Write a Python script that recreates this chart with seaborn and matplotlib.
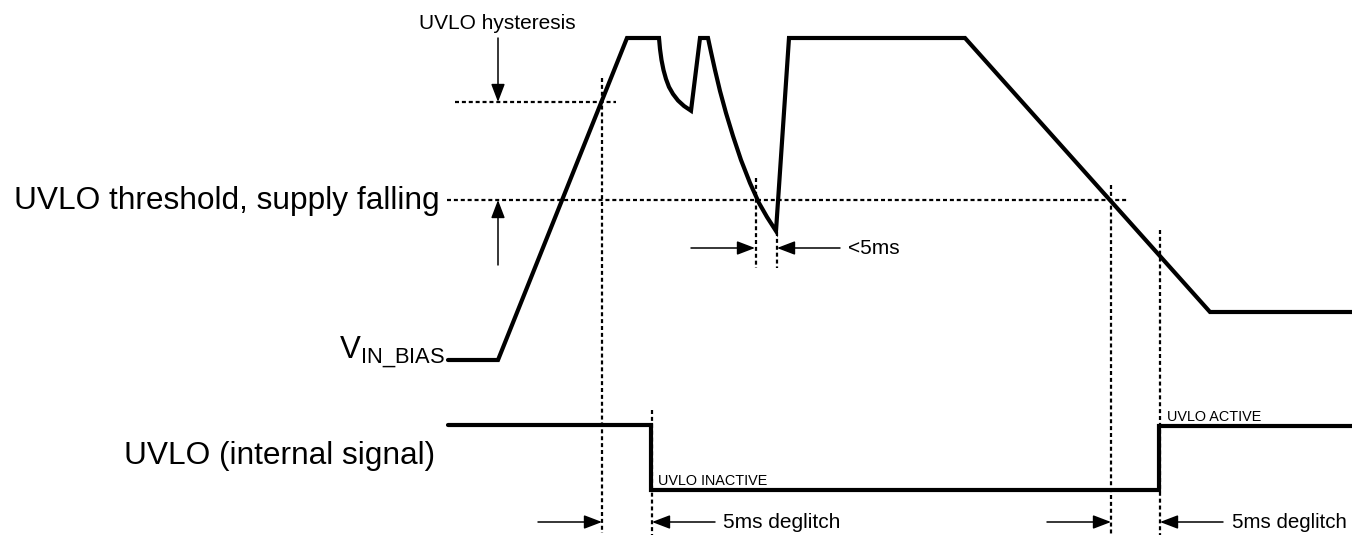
import matplotlib
matplotlib.use('Agg')
import matplotlib.pyplot as plt
import seaborn as sns

sns.set_style('white')
plt.rcParams['font.family'] = ['Liberation Sans', 'DejaVu Sans']
plt.rcParams['text.color'] = 'black'

# V_IN_BIAS waveform (time, level), pixel units
vin_t = [448, 498, 627, 659,
         660, 661.5, 663.5, 666, 669, 673, 678, 684, 691,
         700, 708,
         711, 715, 720, 726, 733, 741, 750, 759, 767, 776,
         789, 965, 1210, 1352]
vin_v = [360, 360, 38, 38,
         49, 60, 70, 79, 87, 94, 100.5, 106, 110.7,
         38, 38,
         52, 70, 91, 113, 136, 160, 183, 203, 217, 231,
         38, 38, 312, 312]

# UVLO internal signal
uvlo_t = [448, 651, 651, 1159, 1159, 1352]
uvlo_v = [425, 425, 490, 490, 426, 426]

# threshold levels (y, x_start, x_end)
thresholds = [(102, 455, 616), (200, 447, 1128)]
# vertical markers (x, y_top, y_bottom)
markers = [(602, 78, 533), (652, 410, 535), (756, 178, 268), (777, 232, 268),
           (1111, 185, 535), (1160, 230, 535)]
# dimension arrows (x_tail, y_tail, x_tip, y_tip)
arrows = [(498, 38, 498, 102), (498, 265, 498, 200),
          (691, 248, 755, 248), (840, 248, 777, 248),
          (538, 522, 602, 522), (715, 522, 652, 522),
          (1047, 522, 1111, 522), (1223, 522, 1160, 522)]

fig = plt.figure(figsize=(13.52, 5.35), dpi=100)
ax = fig.add_axes([0, 0, 1, 1])
ax.set_xlim(0, 1352)
ax.set_ylim(535, 0)
ax.axis('off')

dot = (0, (1.8, 1.3))
for y, x0, x1 in thresholds:
    ax.plot([x0, x1], [y, y], color='black', lw=1.6, ls=dot)
for x, y0, y1 in markers:
    ax.plot([x, x], [y0, y1], color='black', lw=1.6, ls=dot)

sns.lineplot(x=vin_t, y=vin_v, sort=False, estimator=None, color='black',
             linewidth=3, solid_joinstyle='miter', ax=ax)
sns.lineplot(x=uvlo_t, y=uvlo_v, sort=False, estimator=None, color='black',
             linewidth=3, solid_joinstyle='miter', ax=ax)

for x0, y0, x1, y1 in arrows:
    ax.annotate('', xy=(x1, y1), xytext=(x0, y0),
                arrowprops=dict(arrowstyle='-|>,head_length=1.1,head_width=0.42',
                                mutation_scale=10, color='black', lw=1.1,
                                shrinkA=0, shrinkB=0))

ax.text(440, 201, 'UVLO threshold, supply falling', fontsize=22.8,
        ha='right', va='center')
ax.text(435, 456, 'UVLO (internal signal)', fontsize=22.8, ha='right',
        va='center')
ax.text(445, 359, r'V$_{\mathregular{IN\_BIAS}}$', fontsize=22.5, ha='right',
        va='baseline')
ax.text(497, 29, 'UVLO hysteresis', fontsize=15, ha='center', va='baseline')
ax.text(848, 248, '<5ms', fontsize=15, ha='left', va='center')
ax.text(723, 522, '5ms deglitch', fontsize=15, ha='left', va='center')
ax.text(1232, 522, '5ms deglitch', fontsize=14.8, ha='left', va='center')
ax.text(658, 485, 'UVLO INACTIVE', fontsize=10.4, ha='left', va='baseline')
ax.text(1167, 421, 'UVLO ACTIVE', fontsize=10.4, ha='left', va='baseline')

fig.savefig('out.png', dpi=100)
